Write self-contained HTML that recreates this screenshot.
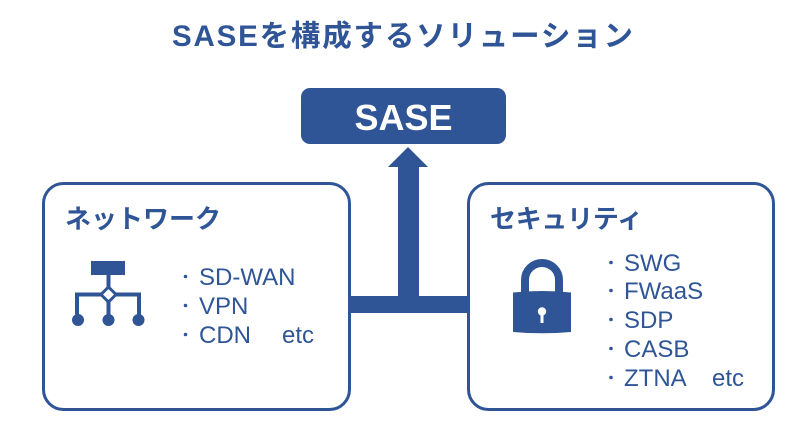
<!DOCTYPE html>
<html>
<head>
<meta charset="utf-8">
<style>
  html,body{margin:0;padding:0;background:#fff;}
  svg{display:block;}
  .jp{font-family:"Liberation Sans","Noto Sans CJK JP",sans-serif;}
  .lt{font-family:"Liberation Sans",sans-serif;}
</style>
</head>
<body>
<svg width="806" height="442" viewBox="0 0 806 442" xmlns="http://www.w3.org/2000/svg">
  <rect width="806" height="442" fill="#fff"/>
  <!-- Title -->
  <text class="jp" x="172" y="46" font-size="29.5" font-weight="bold" fill="#2F5597" textLength="461" lengthAdjust="spacing">SASEを構成するソリューション</text>

  <!-- SASE box -->
  <rect x="301" y="88" width="205" height="56" rx="9" ry="9" fill="#2F5597"/>
  <text class="lt" x="403.5" y="130" font-size="36" font-weight="bold" fill="#fff" text-anchor="middle">SASE</text>

  <!-- Connector -->
  <polygon points="388,167 428,167 408,147" fill="#2F5597"/>
  <rect x="398" y="166" width="21" height="131" fill="#2F5597"/>
  <rect x="349" y="296" width="120" height="17" fill="#2F5597"/>

  <!-- Left box -->
  <rect x="43.5" y="183.5" width="306" height="226" rx="20" ry="20" fill="#fff" stroke="#2F5597" stroke-width="3"/>
  <text class="jp" x="65" y="228" font-size="26" font-weight="bold" fill="#2F5597" textLength="156" lengthAdjust="spacing">ネットワーク</text>

  <!-- Network icon -->
  <rect x="91" y="261" width="34" height="14" fill="#2F5597"/>
  <rect x="106.5" y="274" width="4" height="16" fill="#2F5597"/>
  <rect x="75" y="292.5" width="66" height="4" fill="#2F5597"/>
  <rect x="75" y="292.5" width="4" height="22" fill="#2F5597"/>
  <rect x="106.5" y="292.5" width="4" height="22" fill="#2F5597"/>
  <rect x="137" y="292.5" width="4" height="22" fill="#2F5597"/>
  <polygon points="108.5,287 116,294.5 108.5,302 101,294.5" fill="#fff" stroke="#2F5597" stroke-width="3"/>
  <circle cx="78" cy="320" r="6" fill="#2F5597"/>
  <circle cx="108.5" cy="320" r="6" fill="#2F5597"/>
  <circle cx="138.5" cy="320" r="6" fill="#2F5597"/>

  <!-- Left list -->
  <g fill="#2F5597">
    <circle cx="185.5" cy="276.5" r="1.8"/>
    <circle cx="185.5" cy="305.5" r="1.8"/>
    <circle cx="185.5" cy="334.5" r="1.8"/>
  </g>
  <g class="lt" font-size="24" fill="#2F5597">
    <text x="199" y="285">SD-WAN</text>
    <text x="199" y="314">VPN</text>
    <text x="199" y="343">CDN</text>
    <text x="282" y="343">etc</text>
  </g>

  <!-- Right box -->
  <rect x="468.5" y="183.5" width="305" height="226" rx="20" ry="20" fill="#fff" stroke="#2F5597" stroke-width="3"/>
  <text class="jp" x="490" y="228" font-size="26" font-weight="bold" fill="#2F5597" textLength="153" lengthAdjust="spacing">セキュリティ</text>

  <!-- Lock icon -->
  <path d="M525,292 L525,280 A17,17 0 0 1 559,280 L559,292" fill="none" stroke="#2F5597" stroke-width="8"/>
  <path d="M513,292.5 Q542,289.5 571,292.5 L571,332 Q542,334.5 513,332 Z" fill="#2F5597"/>
  <circle cx="542" cy="311.5" r="4.2" fill="#fff"/>
  <rect x="540.5" y="312" width="3" height="11" fill="#fff"/>

  <!-- Right list -->
  <g fill="#2F5597">
    <circle cx="611" cy="262.5" r="1.8"/>
    <circle cx="611" cy="290.5" r="1.8"/>
    <circle cx="611" cy="319.5" r="1.8"/>
    <circle cx="611" cy="348.5" r="1.8"/>
    <circle cx="611" cy="377.5" r="1.8"/>
  </g>
  <g class="lt" font-size="24" fill="#2F5597">
    <text x="624" y="271">SWG</text>
    <text x="624" y="299">FWaaS</text>
    <text x="624" y="328">SDP</text>
    <text x="624" y="357">CASB</text>
    <text x="624" y="386">ZTNA</text>
    <text x="712" y="386">etc</text>
  </g>
</svg>
</body>
</html>
